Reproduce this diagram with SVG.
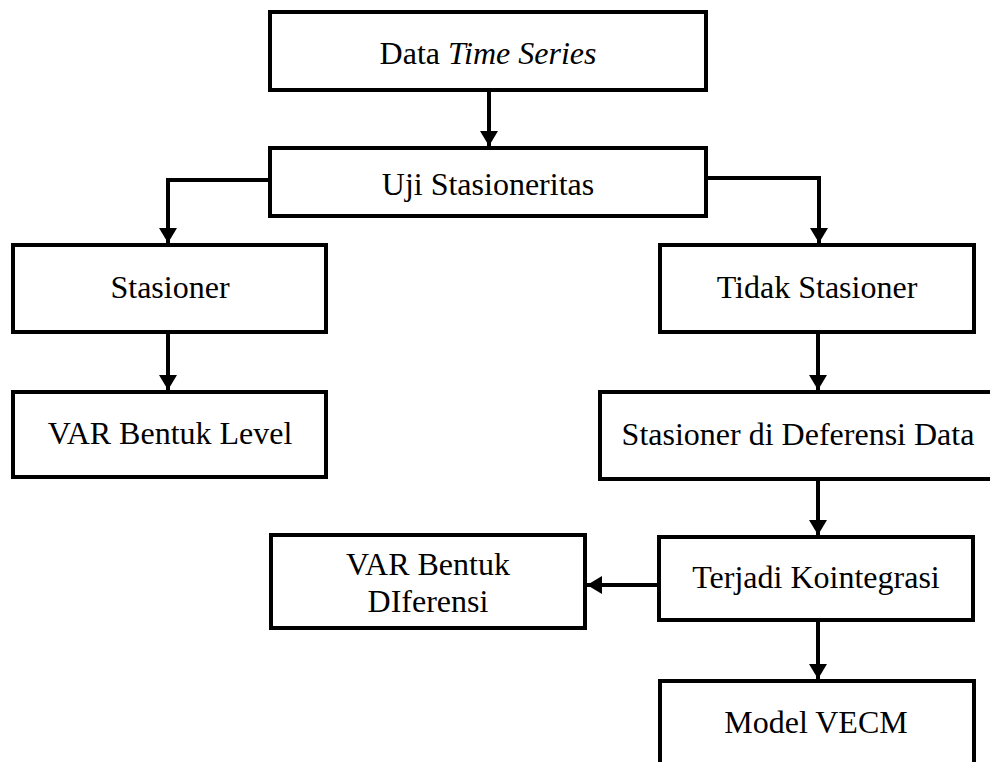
<svg xmlns="http://www.w3.org/2000/svg" width="990" height="762" viewBox="0 0 990 762">
  <style>
    .box { fill: #ffffff; stroke: #000000; stroke-width: 4; }
    .lbl { font-family: "Liberation Serif", "Times New Roman", serif; font-size: 32px; fill: #000000; text-anchor: middle; }
    .conn { fill: none; stroke: #000000; stroke-width: 4; marker-end: url(#arrow); }
  </style>
  <defs>
    <marker id="arrow" markerUnits="userSpaceOnUse" markerWidth="17" markerHeight="18" refX="15" refY="9" orient="auto">
      <path d="M0,0 L15,9 L0,18 Z" fill="#000000"/>
    </marker>
  </defs>
  <rect width="990" height="762" fill="#ffffff"/>

  <g id="connectors">
    <path class="conn" d="M489,90 L489,146"/>
    <path class="conn" d="M270,180 L168,180 L168,243"/>
    <path class="conn" d="M706,178 L819,178 L819,243"/>
    <path class="conn" d="M168,332 L168,390"/>
    <path class="conn" d="M818,332 L818,390"/>
    <path class="conn" d="M818,479 L818,535"/>
    <path class="conn" d="M659,585 L587,585"/>
    <path class="conn" d="M818,620 L818,679"/>
  </g>

  <g id="data-time-series">
    <rect class="box" x="270" y="12" width="436" height="78"/>
    <text class="lbl" x="488" y="64">Data <tspan font-style="italic">Time Series</tspan></text>
  </g>
  <g id="uji-stasioneritas">
    <rect class="box" x="270" y="148" width="436" height="68"/>
    <text class="lbl" x="488" y="195">Uji Stasioneritas</text>
  </g>
  <g id="stasioner">
    <rect class="box" x="13" y="245" width="313" height="87"/>
    <text class="lbl" x="170" y="298">Stasioner</text>
  </g>
  <g id="tidak-stasioner">
    <rect class="box" x="660" y="245" width="314" height="87"/>
    <text class="lbl" x="817" y="298">Tidak Stasioner</text>
  </g>
  <g id="var-bentuk-level">
    <rect class="box" x="13" y="392" width="313" height="85"/>
    <text class="lbl" x="170" y="444">VAR Bentuk Level</text>
  </g>
  <g id="stasioner-deferensi">
    <rect class="box" x="600" y="392" width="394" height="87"/>
    <text class="lbl" x="798" y="445">Stasioner di Deferensi Data</text>
  </g>
  <g id="var-bentuk-diferensi">
    <rect class="box" x="271" y="535" width="314" height="93"/>
    <text class="lbl" x="428" y="575">VAR Bentuk</text>
    <text class="lbl" x="428" y="612">DIferensi</text>
  </g>
  <g id="terjadi-kointegrasi">
    <rect class="box" x="659" y="537" width="314" height="83"/>
    <text class="lbl" x="816" y="588">Terjadi Kointegrasi</text>
  </g>
  <g id="model-vecm">
    <rect class="box" x="660" y="681" width="314" height="90"/>
    <text class="lbl" x="816" y="733">Model VECM</text>
  </g>
</svg>
